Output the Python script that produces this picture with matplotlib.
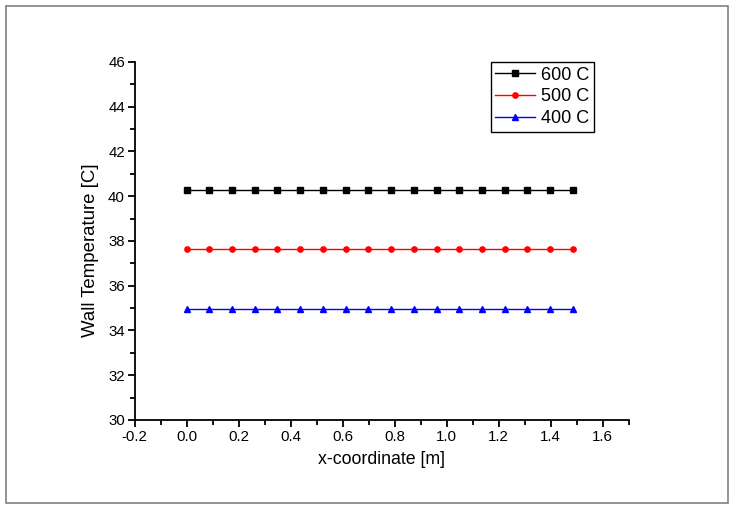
import numpy as np
import matplotlib.pyplot as plt
from matplotlib.patches import Rectangle
from matplotlib.ticker import MultipleLocator

plt.rcParams['font.family'] = ['Liberation Sans', 'DejaVu Sans']

# positions along the wall [m]
x = [0.0, 0.0874, 0.1747, 0.262, 0.349, 0.437, 0.524, 0.611, 0.699,
     0.786, 0.874, 0.961, 1.048, 1.136, 1.223, 1.310, 1.398, 1.485]
t600 = [40.27] * 18
t500 = [37.63] * 18
t400 = [34.98] * 18
labels = ['600 C', '500 C', '400 C']

fig = plt.figure(figsize=(7.39, 5.09), dpi=100)
ax = fig.add_axes([0.1823, 0.1749, 0.6685, 0.7033])

ax.plot(x, t600, color='black', lw=1.0, marker='s', ms=3.8, label=labels[0])
ax.plot(x, t500, color='red', lw=1.0, marker='o', ms=3.8, label=labels[1])
ax.plot(x, t400, color='blue', lw=1.0, marker='^', ms=4.2, label=labels[2])

ax.set_xlim(-0.2, 1.7)
ax.set_ylim(30, 46)
ax.xaxis.set_minor_locator(MultipleLocator(0.1))
ax.yaxis.set_major_locator(MultipleLocator(2))
ax.yaxis.set_minor_locator(MultipleLocator(1))
ax.set_xticks(np.arange(-0.2, 1.61, 0.2))
ax.set_xticklabels(['-0.2', '0.0', '0.2', '0.4', '0.6', '0.8', '1.0', '1.2', '1.4', '1.6'])

for s in ['top', 'right']:
    ax.spines[s].set_visible(False)
for s in ['left', 'bottom']:
    ax.spines[s].set_linewidth(1.3)
ax.tick_params(which='major', direction='out', length=5, width=1.3, labelsize=10.8, pad=2)
ax.tick_params(which='minor', direction='out', length=3.5, width=1.3)

ax.set_xlabel('x-coordinate [m]', fontsize=12.8, labelpad=5)
ax.set_ylabel('Wall Temperature [C]', fontsize=13.4)
ax.yaxis.set_label_coords(-0.072, 0.475)

leg = ax.legend(loc='upper right', bbox_to_anchor=(0.93, 1.0), borderaxespad=0,
                fontsize=13, handlelength=2.2, handletextpad=0.35, labelspacing=0.27,
                borderpad=0.25, fancybox=False, framealpha=1, edgecolor='black')
leg.get_frame().set_linewidth(1.0)

# outer page frame
fig.patches.append(Rectangle((6 / 739, 6 / 509), 722 / 739, 497 / 509, transform=fig.transFigure,
                             fill=False, edgecolor='#808080', lw=1.2))

fig.savefig('out.png', dpi=100)
